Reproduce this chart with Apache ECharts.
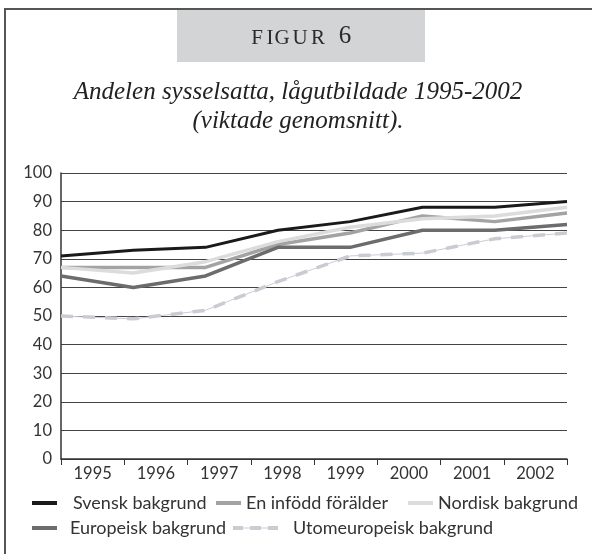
<!DOCTYPE html>
<html>
<head>
<meta charset="utf-8">
<script src="https://cdn.jsdelivr.net/npm/echarts@6/dist/echarts.min.js"></script>
<style>
html,body{margin:0;padding:0;background:#fff;}
#c{width:592px;height:554px;}
</style>
</head>
<body>
<div id="c"></div>
<script>
var years = ['1995','1996','1997','1998','1999','2000','2001','2002'];
var yTicks = [0,10,20,30,40,50,60,70,80,90,100];
var svensk = [71,73,74,80,83,88,88,90];
var enFodd = [67,67,67,75,79,85,83,86];
var nordisk = [67,65,69,76,81,84,85,88];
var europeisk = [64,60,64,74,74,80,80,82];
var utomeuropeisk = [50,49,52,62,71,72,77,79];
var names = ['Svensk bakgrund','En infödd förälder','Nordisk bakgrund','Europeisk bakgrund','Utomeuropeisk bakgrund'];

var chart = echarts.init(document.getElementById('c'));
var sans = 'Lato';
var serif = 'Liberation Serif';

function leg(name, left, top, w, gap, icon){
  return {
    data:[{name:name, icon:icon || 'rect'}], left:left, top:top, itemWidth:w, itemHeight:4, itemGap:0,
    padding:0, textStyle:{fontFamily:sans, fontSize:18, color:'#333', padding:[0,0,0,gap]},
    selectedMode:false
  };
}

function line(name, data, color, width, z, dash){
  return {
    name:name, type:'line', xAxisIndex:1, data:data, symbol:'none', z:z,
    lineStyle:{color:color, width:width, type: dash || 'solid', cap:'butt'},
    itemStyle:{color:color}, animation:false
  };
}

var figLetters = [['F',257],['I',270],['G',282],['U',300],['R',318]];
var graphics = [
  {type:'line', shape:{x1:5,y1:9,x2:592,y2:9}, style:{stroke:'#555', lineWidth:2}},
  {type:'line', shape:{x1:5,y1:8,x2:5,y2:554}, style:{stroke:'#555', lineWidth:2}},
  {type:'rect', shape:{x:177,y:10,width:248,height:52}, style:{fill:'#d3d4d6'}},
  {type:'text', x:345, y:36, style:{text:'6', fontFamily:serif, fontSize:25, fill:'#2a2a2a', align:'center', verticalAlign:'middle'}},
  {type:'text', x:298, y:92, style:{text:'Andelen sysselsatta, lågutbildade 1995-2002', fontFamily:serif, fontStyle:'italic', fontSize:25, fill:'#222', align:'center', verticalAlign:'middle'}},
  {type:'text', x:298, y:121, style:{text:'(viktade genomsnitt).', fontFamily:serif, fontStyle:'italic', fontSize:25, fill:'#222', align:'center', verticalAlign:'middle'}}
];
figLetters.forEach(function(l){
  graphics.push({type:'text', x:l[1], y:38, style:{text:l[0], fontFamily:serif, fontSize:21, fill:'#2a2a2a', align:'center', verticalAlign:'middle'}});
});

var dashIcon = 'path://M0,0h10v4h-10z M17,0h11v4h-11z M35,0h10v4h-10z M10,1.5h7v1h-7z M28,1.5h7v1h-7z';

chart.setOption({
  animation:false,
  graphic:graphics,
  legend:[
    leg(names[0], 32, 494, 25, 11),
    leg(names[1], 216, 494, 25, 0),
    leg(names[2], 408, 494, 25, 0),
    leg(names[3], 32, 519, 25, 8),
    leg(names[4], 233, 519, 45, 10, dashIcon)
  ],
  grid:{left:61, right:25, top:173, bottom:95},
  xAxis:[
    {type:'category', data:years, boundaryGap:true,
     axisLine:{lineStyle:{color:'#333', width:1.5}},
     axisTick:{show:true, length:6, inside:false, lineStyle:{color:'#333'}},
     axisLabel:{fontFamily:sans, fontSize:16.5, color:'#333', margin:6},
     splitLine:{show:false}},
    {type:'category', data:years, boundaryGap:false, show:false}
  ],
  yAxis:{type:'value', min:0, max:100, interval:10,
    axisLine:{show:true, lineStyle:{color:'#333', width:1.5}},
    axisTick:{show:false},
    axisLabel:{fontFamily:sans, fontSize:16.5, color:'#333', margin:9,
      formatter:function(v){return yTicks.indexOf(v)>=0 ? String(v) : '';}},
    splitLine:{lineStyle:{color:'#444', width:1}}
  },
  series:[
    line(names[0], svensk, '#1a1a1a', 3, 10),
    line(names[1], enFodd, '#a3a3a3', 3.5, 6),
    line(names[2], nordisk, '#dcdcdc', 3.5, 7),
    line(names[3], europeisk, '#6c6c6c', 3.5, 8),
    line(names[4], utomeuropeisk, '#c9ccd2', 3.5, 5, [12,10]),
    {name:'_thin', type:'line', xAxisIndex:1, data:utomeuropeisk, symbol:'none', z:4,
     lineStyle:{color:'#c9ccd2', width:1}, animation:false, legendHoverLink:false}
  ]
});
</script>
</body>
</html>
